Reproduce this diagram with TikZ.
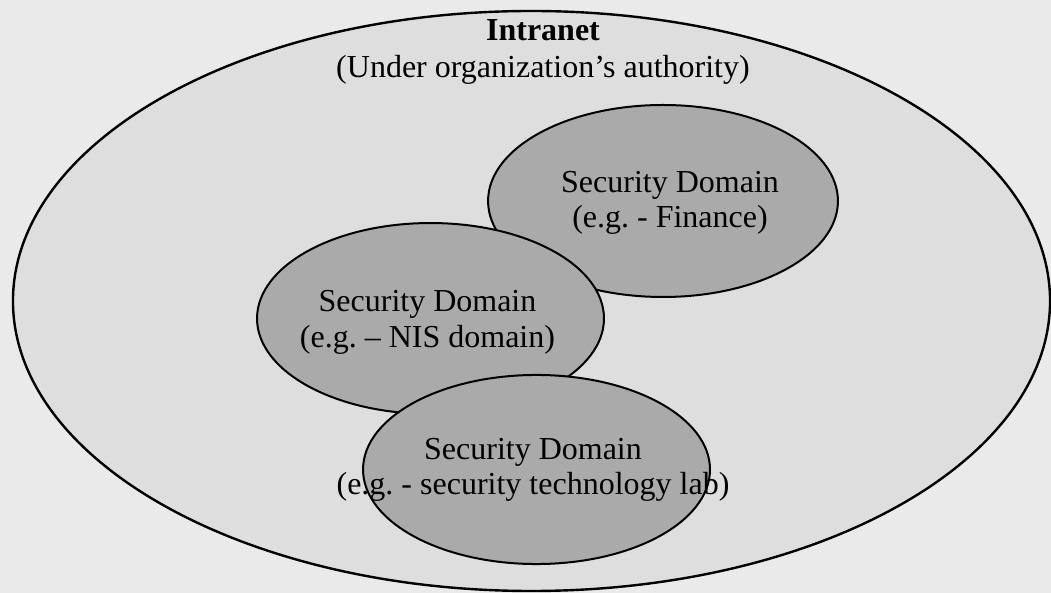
\documentclass[tikz,border=0pt]{standalone}
\usepackage{fontspec}
\setmainfont{Liberation Serif}
\usepackage{xcolor}
\usepackage{tikz}
\usetikzlibrary{shapes.geometric}
\frenchspacing

\definecolor{paper}{RGB}{234,234,234}
\definecolor{netgray}{RGB}{222,222,222}
\definecolor{domgray}{RGB}{170,170,170}

\begin{document}
\begin{tikzpicture}[x=0.375pt, y=-0.375pt,
    secdomain/.style={draw, ellipse, fill=domgray, line width=0.75pt, inner sep=0pt},
    domtext/.style={align=center, font=\fontsize{12}{13.3}\selectfont}]

    % Page
    \fill[paper] (0,0) rectangle (1051,593);
    \useasboundingbox (0,0) rectangle (1051,593);

    % Intranet
    \node[draw, ellipse, fill=netgray, line width=0.9pt, inner sep=0pt, minimum width=388.9pt, minimum height=217.5pt] (intranet) at (531.5,301) {};
    \node[domtext, font=\fontsize{12}{13.9}\selectfont] (title) at (543,52) {\textbf{Intranet}\\(Under organization’s authority)};

    % Security domains
    \node[secdomain, minimum width=131.2pt, minimum height=72pt] (fin) at (663,201) {};
    \node[secdomain, minimum width=130.1pt, minimum height=71.6pt] (nis) at (430.5,318.5) {};
    \node[secdomain, minimum width=130.1pt, minimum height=70.9pt] (lab) at (536.5,469.5) {};

    % Labels
    \node[domtext] (fintext) at (670,203) {Security Domain\\(e.g. - Finance)};
    \node[domtext] (nistext) at (427.5,322.5) {Security Domain\\(e.g. – NIS domain)};
    \node[domtext] (labtext) at (533,470) {Security Domain\\(e.g. - security technology lab)};

\end{tikzpicture}
\end{document}
